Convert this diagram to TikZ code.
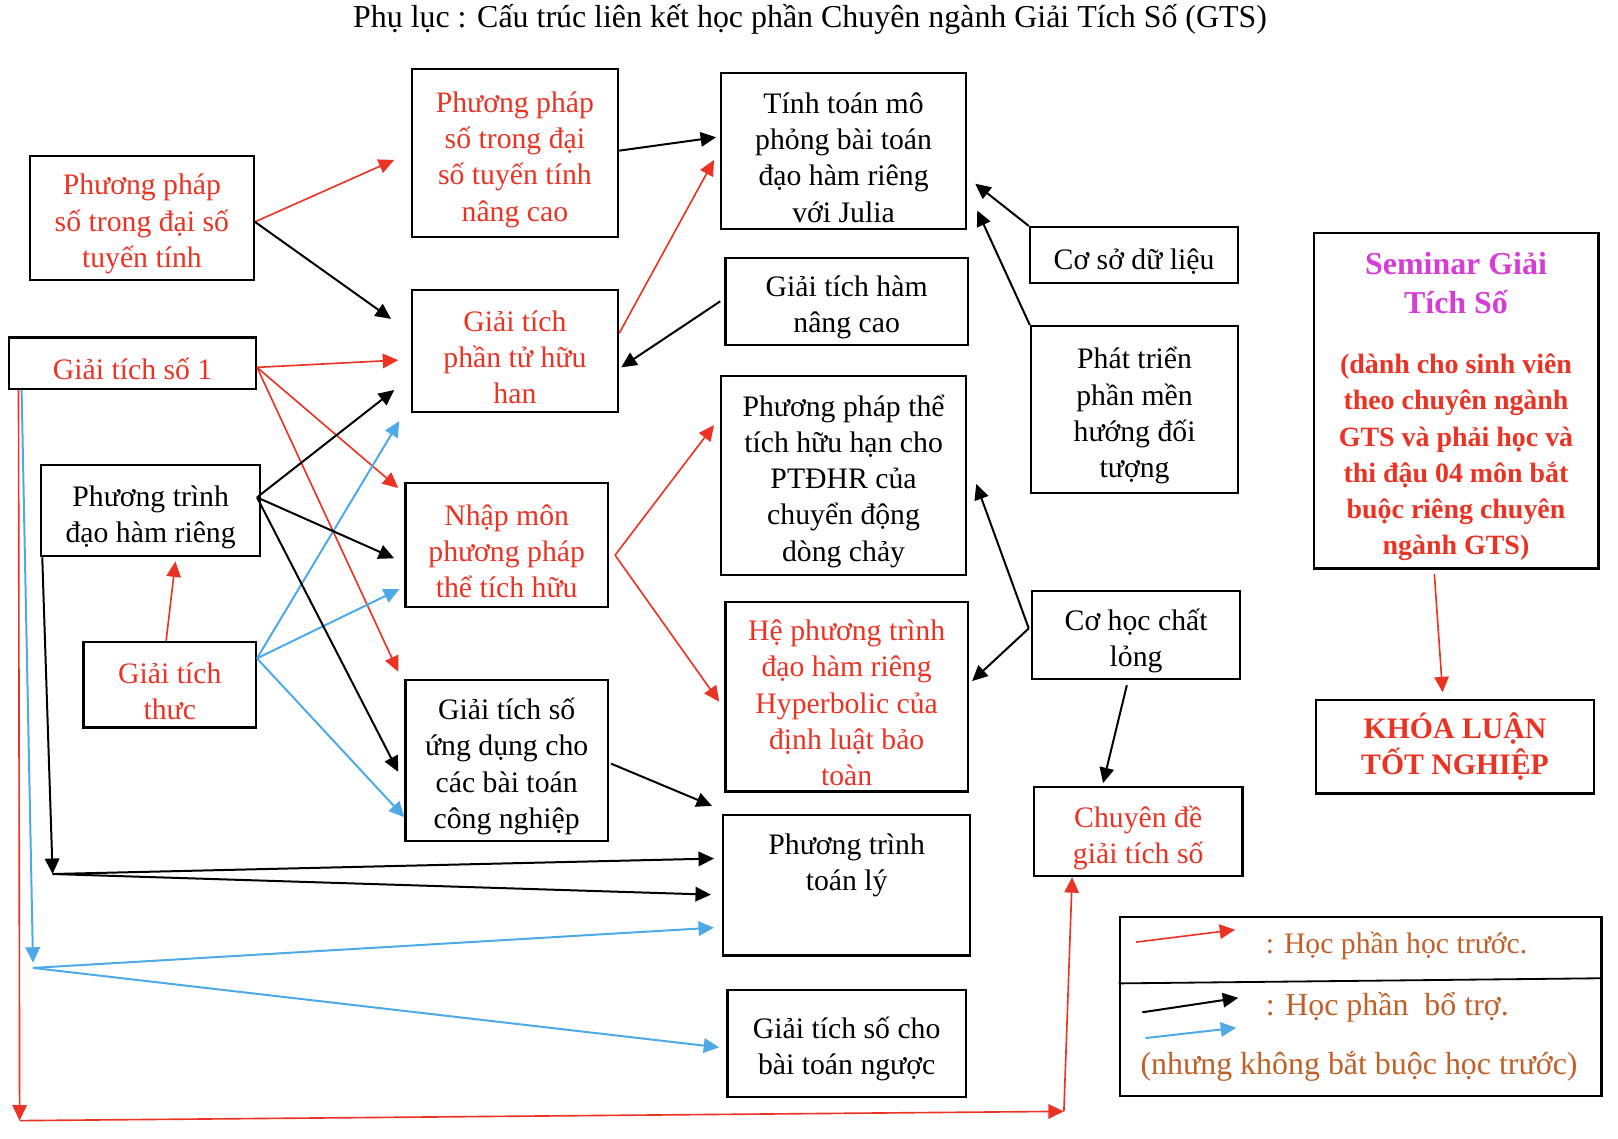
\documentclass[tikz,border=0pt]{standalone}
\usepackage{fontspec}
\setmainfont{Liberation Serif}
\usepackage{xcolor}
\usetikzlibrary{arrows.meta, positioning}

\definecolor{reqred}{RGB}{235,51,36}
\definecolor{optblue}{RGB}{77,170,230}
\definecolor{semmagenta}{RGB}{214,60,214}
\definecolor{legbrown}{RGB}{192,96,40}

\newcommand{\boxfont}{\fontsize{8.2}{10}\selectfont}
\newcommand{\legfont}{\fontsize{8.8}{10.5}\selectfont}
\newcommand{\lnstrut}{\rule{0pt}{9.2pt}}

\begin{document}
\begin{tikzpicture}[
    box/.style={rectangle, draw, line width=0.6pt, align=center, inner sep=0pt, font=\boxfont},
    sz/.style 2 args={minimum width=#1cm, minimum height=#2cm},
    redtxt/.style={text=reqred},
    prereq/.style={-{Triangle[length=1.5mm,width=1.4mm]}, reqred, line width=0.45pt},
    aux/.style={-{Triangle[length=1.5mm,width=1.4mm]}, black, line width=0.55pt},
    auxopt/.style={-{Triangle[length=1.5mm,width=1.4mm]}, optblue, line width=0.55pt}
]
\useasboundingbox (0,0) rectangle (15.68,-11.03);

\node[font=\legfont] (title) at (7.85,-0.19) {Phụ lục : Cấu trúc liên kết học phần Chuyên ngành Giải Tích Số (GTS)};

% cot 1
\node[box, redtxt, sz={2.17}{1.20}] (ppds) at (1.375,-2.11) {\lnstrut Phương pháp\\số trong đại số\\tuyến tính};
\node[box, redtxt, sz={2.39}{0.50}] (gts1) at (1.285,-3.52) {\lnstrut Giải tích số 1};
\node[box, sz={2.12}{0.88}] (ptdhr) at (1.46,-4.95) {\lnstrut Phương trình\\đạo hàm riêng};
\node[box, redtxt, sz={1.67}{0.83}] (gtt) at (1.645,-6.635) {\lnstrut Giải tích\\thưc};

% cot 2
\node[box, redtxt, sz={2.00}{1.63}] (ppdsnc) at (4.99,-1.485) {\lnstrut Phương pháp\\số trong đại\\số tuyến tính\\nâng cao};
\node[box, redtxt, sz={2.00}{1.18}] (gtpthh) at (4.99,-3.40) {\lnstrut Giải tích\\phần tử hữu\\han};
\node[box, redtxt, sz={1.96}{1.20}] (nmpp) at (4.91,-5.28) {\lnstrut Nhập môn\\phương pháp\\thể tích hữu};
\node[box, sz={1.96}{1.56}] (gtsud) at (4.91,-7.37) {\lnstrut Giải tích số\\ứng dụng cho\\các bài toán\\công nghiệp};

% cot 3
\node[box, sz={2.37}{1.51}] (ttmp) at (8.175,-1.465) {\lnstrut Tính toán mô\\phỏng bài toán\\đạo hàm riêng\\với Julia};
\node[box, sz={2.35}{0.84}] (gthnc) at (8.205,-2.92) {\lnstrut Giải tích hàm\\nâng cao};
\node[box, sz={2.37}{1.93}] (pptt) at (8.175,-4.605) {\lnstrut Phương pháp thể\\tích hữu hạn cho\\PTĐHR của\\chuyển động\\dòng chảy};
\node[box, redtxt, sz={2.35}{1.84}] (hpt) at (8.205,-6.75) {\lnstrut Hệ phương trình\\đạo hàm riêng\\Hyperbolic của\\định luật bảo\\toàn};
\node[box, sz={2.39}{1.36}] (pttl) at (8.205,-8.58) {\parbox[c][1.0cm][t]{2.3cm}{\centering Phương trình\\toán lý}};
\node[box, sz={2.31}{1.04}] (gtsbtn) at (8.205,-10.11) {\lnstrut Giải tích số cho\\bài toán ngược};

% cot 4
\node[box, sz={2.02}{0.54}] (csdl) at (10.99,-2.47) {\lnstrut Cơ sở dữ liệu};
\node[box, sz={2.01}{1.62}] (ptpm) at (10.995,-3.97) {\lnstrut Phát triển\\phần mền\\hướng đối\\tượng};
\node[box, sz={2.02}{0.85}] (chcl) at (11.01,-6.155) {\lnstrut Cơ học chất\\lỏng};
\node[box, redtxt, sz={2.02}{0.86}] (cdgts) at (11.03,-8.06) {\lnstrut Chuyên đề\\giải tích số};

% cot 5
\node[box, sz={2.76}{3.25}] (sem) at (14.11,-3.885) {\parbox{2.72cm}{\vspace*{1.1mm}\centering\bfseries
    {\fontsize{8.8}{10.8}\selectfont\color{semmagenta}Seminar Giải\\Tích Số\par}\vspace{2.3mm}
    \fontsize{7.7}{10}\selectfont\color{reqred}(dành cho sinh viên\\theo chuyên ngành\\GTS và phải học và\\thi đậu 04 môn bắt\\buộc riêng chuyên\\ngành GTS)}};
\node[box, redtxt, font=\boxfont\bfseries, sz={2.70}{0.91}] (kltn) at (14.10,-7.235) {KHÓA LUẬN\\TỐT NGHIỆP};

% chu thich
\node[box, sz={4.67}{1.73}] (leg) at (13.185,-9.755) {};
\draw[line width=0.5pt] ([yshift=2.25mm]leg.west) -- ([yshift=2.75mm]leg.east);
\coordinate (lr1) at (11.01,-9.13); \coordinate (lr2) at (11.97,-9.01);
\coordinate (lk1) at (11.07,-9.81); \coordinate (lk2) at (12.00,-9.67);
\coordinate (lb1) at (11.10,-10.06); \coordinate (lb2) at (11.98,-9.96);
\draw[prereq] (lr1) -- (lr2);
\draw[aux] (lk1) -- (lk2);
\draw[auxopt] (lb1) -- (lb2);
\node[font=\boxfont, text=legbrown, anchor=west, inner sep=0pt] (legreq) at (12.26,-9.17) {: Học phần học trước.};
\node[font=\legfont, text=legbrown, anchor=west, inner sep=0pt] (legaux) at (12.26,-9.76) {: Học phần\ \ bổ trợ.};
\node[font=\legfont, text=legbrown, inner sep=0pt] (legopt) at (13.17,-10.33) {(nhưng không bắt buộc học trước)};

% hoc phan hoc truoc
\draw[prereq] ([yshift=-0.4mm]ppds.east) -- ([shift={(-1.6mm,-0.65mm)}]ppdsnc.west);
\draw[prereq] ([yshift=-0.4mm]gts1.east) -- ([shift={(-1.2mm,-0.9mm)}]gtpthh.west);
\draw[prereq] ([yshift=-0.4mm]gts1.east) -- ([shift={(-0.6mm,-0.6mm)}]nmpp.north west);
\draw[prereq] ([yshift=-0.4mm]gts1.east) -- ([shift={(-0.6mm,0.7mm)}]gtsud.north west);
\draw[prereq] ([yshift=1.7mm]gtpthh.east) -- ([shift={(-0.6mm,-0.85mm)}]ttmp.west);
\draw[prereq] ([shift={(0.6mm,-1mm)}]nmpp.east) -- ([shift={(-0.6mm,4.85mm)}]pptt.west);
\draw[prereq] ([shift={(0.6mm,-1mm)}]nmpp.east) -- ([shift={(-0.5mm,-0.5mm)}]hpt.west);
\draw[prereq] ([xshift=-0.35mm]gtt.north) -- ([shift={(2.4mm,-0.4mm)}]ptdhr.south);
\coordinate (rc1) at (0.19,-10.86);
\coordinate (rc2) at (10.31,-10.77);
\draw[prereq] ([xshift=1mm]gts1.south west) -- (rc1);
\draw[prereq] (rc1) -- (rc2);
\draw[prereq] (rc2) -- ([xshift=-6.4mm]cdgts.south);
\draw[prereq] ([shift={(-2.1mm,-0.4mm)}]sem.south) -- ([shift={(-1.2mm,0.6mm)}]kltn.north);

% bo tro, khong bat buoc
\coordinate (bc) at (0.32,-9.33);
\draw[auxopt] ([xshift=1.3mm]gts1.south west) -- (bc);
\draw[auxopt] ([yshift=-0.5mm]bc) -- ([shift={(-0.8mm,-4.1mm)}]pttl.west);
\draw[auxopt] ([yshift=-0.5mm]bc) -- ([shift={(-0.7mm,-0.4mm)}]gtsbtn.west);
\draw[auxopt] ([yshift=2.55mm]gtt.east) -- ([shift={(-1.1mm,-0.8mm)}]gtpthh.south west);
\draw[auxopt] ([yshift=2.55mm]gtt.east) -- ([shift={(-0.5mm,-4.3mm)}]nmpp.west);
\draw[auxopt] ([yshift=2.55mm]gtt.east) -- ([yshift=-5.5mm]gtsud.west);

% bo tro
\draw[aux] ([yshift=-0.4mm]ppds.east) -- ([shift={(-1.9mm,3.1mm)}]gtpthh.west);
\draw[aux] ([yshift=0.25mm]ppdsnc.east) -- ([shift={(-0.4mm,1.35mm)}]ttmp.west);
\draw[aux] ([xshift=-0.4mm]gthnc.west) -- ([shift={(0.2mm,-1.6mm)}]gtpthh.east);
\draw[aux] ([shift={(-0.4mm,1.3mm)}]ptdhr.east) -- ([shift={(-1.6mm,-3.8mm)}]gtpthh.west);
\draw[aux] ([shift={(-0.4mm,1.3mm)}]ptdhr.east) -- ([shift={(-1mm,-1.3mm)}]nmpp.west);
\draw[aux] ([shift={(-0.4mm,1.3mm)}]ptdhr.east) -- ([shift={(-0.6mm,-1.1mm)}]gtsud.west);
\coordinate (kc) at (0.51,-8.47);
\draw[aux] ([xshift=0.2mm]ptdhr.south west) -- (kc);
\draw[aux] (kc) -- ([shift={(-0.8mm,2.6mm)}]pttl.west);
\draw[aux] (kc) -- ([shift={(-1.1mm,-0.9mm)}]pttl.west);
\draw[aux] ([shift={(0.2mm,-0.3mm)}]gtsud.east) -- ([shift={(-1mm,0.8mm)}]pttl.north west);
\draw[aux] (csdl.north west) -- ([shift={(0.8mm,-3.15mm)}]ttmp.east);
\draw[aux] (ptpm.north west) -- ([shift={(1mm,-5.75mm)}]ttmp.east);
\draw[aux] ([shift={(-0.2mm,0.65mm)}]chcl.west) -- ([shift={(0.9mm,-0.85mm)}]pptt.east);
\draw[aux] ([shift={(-0.2mm,0.65mm)}]chcl.west) -- ([shift={(0.3mm,1.5mm)}]hpt.east);
\draw[aux] ([shift={(-0.9mm,-0.5mm)}]chcl.south) -- ([shift={(-3.4mm,0.3mm)}]cdgts.north);

\end{tikzpicture}
\end{document}
